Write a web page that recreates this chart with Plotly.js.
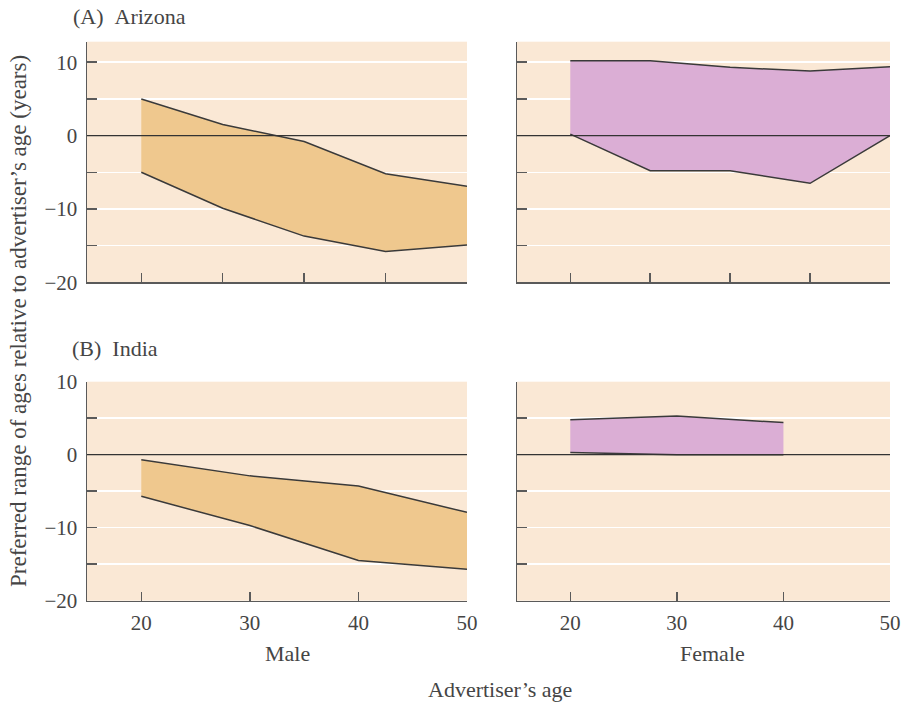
<!DOCTYPE html>
<html>
<head>
<meta charset="utf-8">
<script src="https://cdn.plot.ly/plotly-3.0.1.min.js"></script>
<style>html,body{margin:0;padding:0;background:#fff;}#chart{width:911px;height:702px;}</style>
</head>
<body>
<div id="chart"></div>
<script>
// ---- data ----
const topAges = [20, 27.5, 35, 42.5, 50];
const bottomMaleAges = [20, 30, 40, 50];
const bottomFemaleAges = [20, 30, 40];
const azMaleUpper = [5.0, 1.5, -0.8, -5.2, -6.9];
const azMaleLower = [-5.0, -9.9, -13.7, -15.8, -14.9];
const azFemaleUpper = [10.2, 10.2, 9.3, 8.8, 9.4];
const azFemaleLower = [0.2, -4.8, -4.8, -6.5, 0.0];
const inMaleUpper = [-0.7, -2.9, -4.3, -7.9];
const inMaleLower = [-5.7, -9.7, -14.5, -15.7];
const inFemaleUpper = [4.8, 5.3, 4.4];
const inFemaleLower = [0.3, 0.0, 0.0];
const yTickVals = [-20, -15, -10, -5, 0, 5, 10];
const yTickText = ['\u221220', '', '\u221210', '', '0', '', '10'];
const topXTicks = [20, 27.5, 35, 42.5, 50];
const bottomXTicks = [20, 30, 40, 50];
const bottomXText = ['20', '30', '40', '50'];

const maleFill = '#efc88e';
const femaleFill = '#dbaed5';
const lineCol = '#3a3a3a';
const textCol = '#454545';
const FONT = 'Liberation Serif, Times New Roman, serif';

function band(x, lo, hi, fill, xa, ya) {
  return [
    {x: x, y: lo, type: 'scatter', mode: 'lines', line: {color: lineCol, width: 1.5}, xaxis: xa, yaxis: ya, hoverinfo: 'skip', showlegend: false},
    {x: x, y: hi, type: 'scatter', mode: 'lines', fill: 'tonexty', fillcolor: fill, line: {color: lineCol, width: 1.5}, xaxis: xa, yaxis: ya, hoverinfo: 'skip', showlegend: false}
  ];
}

const data = [].concat(
  band(topAges, azMaleLower, azMaleUpper, maleFill, 'x', 'y'),
  band(topAges, azFemaleLower, azFemaleUpper, femaleFill, 'x2', 'y2'),
  band(bottomMaleAges, inMaleLower, inMaleUpper, maleFill, 'x3', 'y3'),
  band(bottomFemaleAges, inFemaleLower, inFemaleUpper, femaleFill, 'x4', 'y4')
);

const W = 911, H = 702;
const px = v => v / W, py = v => 1 - v / H;

function xax(dom, anchor, labels) {
  const a = {
    domain: dom, anchor: anchor, range: [15, 50], showgrid: false, zeroline: false,
    showline: true, linecolor: '#5a5a5a', linewidth: 1.5,
    ticks: 'inside', ticklen: 9, tickwidth: 1.5, tickcolor: '#5a5a5a',
    tickfont: {family: FONT, size: 21, color: textCol}
  };
  if (labels) { a.tickmode = 'array'; a.tickvals = bottomXTicks; a.ticktext = bottomXText; a.ticklabelstandoff = 3; }
  else { a.tickmode = 'array'; a.tickvals = topXTicks; a.showticklabels = false; }
  return a;
}
function yax(dom, anchor, range, labels) {
  return {
    domain: dom, anchor: anchor, range: range, zeroline: false,
    showgrid: true, gridcolor: '#ffffff', gridwidth: 1.5,
    showline: true, linecolor: '#5a5a5a', linewidth: 1.5,
    ticks: 'inside', ticklen: 10, tickwidth: 1.5, tickcolor: '#5a5a5a',
    tickmode: 'array', tickvals: yTickVals, ticktext: yTickText,
    showticklabels: labels, ticklabelstandoff: 4,
    tickfont: {family: FONT, size: 21, color: textCol}
  };
}

const leftDom = [px(87), px(467)];
const rightDom = [px(517), px(890)];
const topDom = [py(282.3), py(41.7)];
const botDom = [py(600.7), py(381.7)];

function zeroLine(xr, yr) {
  return {type: 'line', xref: xr + ' domain', yref: yr, x0: 0, x1: 1, y0: 0, y1: 0, layer: 'above', line: {color: '#333333', width: 1.2}};
}

function ann(text, x, y, opts) {
  return Object.assign({text: text, x: x, y: y, xref: 'paper', yref: 'paper', showarrow: false,
    xanchor: 'center', yanchor: 'middle', font: {family: FONT, size: 22, color: textCol}}, opts || {});
}

const layout = {
  width: W, height: H, margin: {l: 0, r: 0, t: 0, b: 0},
  paper_bgcolor: '#ffffff', plot_bgcolor: '#fae8d5',
  showlegend: false,
  xaxis: xax(leftDom, 'y', false),
  yaxis: yax(topDom, 'x', [-20, 12.8], true),
  xaxis2: xax(rightDom, 'y2', false),
  yaxis2: yax(topDom, 'x2', [-20, 12.8], false),
  xaxis3: xax(leftDom, 'y3', true),
  yaxis3: yax(botDom, 'x3', [-20, 10], true),
  xaxis4: xax(rightDom, 'y4', true),
  yaxis4: yax(botDom, 'x4', [-20, 10], false),
  shapes: [zeroLine('x', 'y'), zeroLine('x2', 'y2'), zeroLine('x3', 'y3'), zeroLine('x4', 'y4')],
  annotations: [
    ann('(A)\u00a0\u00a0Arizona', px(71), py(17), {xanchor: 'left'}),
    ann('(B)\u00a0\u00a0India', px(70), py(348), {xanchor: 'left'}),
    ann('Male', px(287), py(653)),
    ann('Female', px(712), py(653)),
    ann('Advertiser\u2019s age', px(500), py(689)),
    ann('Preferred range of ages relative to advertiser\u2019s age (years)', px(19), py(321), {textangle: -90, font: {family: FONT, size: 23, color: textCol}})
  ]
};

Plotly.newPlot('chart', data, layout, {staticPlot: true});
</script>
</body>
</html>
